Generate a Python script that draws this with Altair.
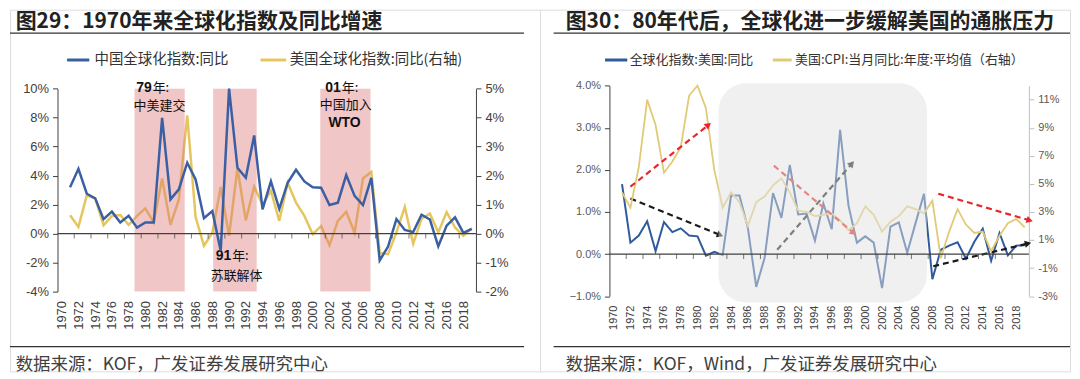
import math
import altair as alt
import pandas as pd

# ---------------- data ----------------
years = list(range(1971, 2020))

# left panel: China globalisation index YoY (left axis, %)
china_glob_yoy = [3.2, 4.47, 2.75, 2.43, 0.99, 1.51, 0.76, 1.22, 0.41, 0.76,
                  0.76, 7.98, 2.36, 3.05, 4.89, 3.74, 1.06, 1.56, -1.19, 10.0,
                  4.54, 3.85, 6.77, 1.67, 3.6, 1.7, 3.5, 4.4, 3.6, 3.2,
                  3.17, 1.97, 2.13, 4.04, 2.6, 1.97, 3.85, -1.85, -0.9, 1.0,
                  0.25, 0.1, 1.3, 0.97, -0.88, 0.55, 1.12, 0.05, 0.33]
# left panel: US globalisation index YoY (right axis, %)
us_glob_yoy = [0.63, 0.23, 1.32, 1.22, 0.29, 0.61, 0.64, 0.30, 0.61, 0.87,
               0.38, 1.90, 0.30, 1.18, 4.08, 0.57, -0.42, 0.03, 1.61, -0.08,
               2.25, 0.46, 1.62, 0.99, 1.47, 0.44, 1.75, 1.07, 0.61, -0.02,
               0.26, -0.40, 0.44, 0.75, 0.03, 1.90, 2.13, -0.67, -0.71, 0.04,
               0.92, -0.35, 0.51, 0.69, 0.04, 0.74, 0.21, -0.08, 0.18]
# right panel: globalisation index US YoY (left axis, %)
glob_us_yoy = [1.66, 0.27, 0.44, 0.78, 0.07, 0.76, 0.52, 0.61, 0.44, 0.42,
               -0.04, 0.05, -0.02, 1.39, 1.39, 0.62, -0.78, -0.09, 1.45, 0.86,
               2.12, 0.94, 0.96, 0.32, 1.2, 0.59, 2.95, 1.15, 0.27, 0.42,
               0.27, -0.81, 0.65, 0.75, 0.03, 0.74, 1.43, -0.6, 0.1, 0.2,
               0.28, -0.11, 0.29, 0.6, -0.16, 0.5, -0.03, 0.2, 0.21]
# right panel: US CPI YoY annual average (right axis, %)
us_cpi = [4.4, 3.3, 6.2, 11.0, 9.2, 5.8, 6.6, 7.6, 11.3, 13.5,
          10.4, 6.0, 3.3, 4.4, 3.7, 2.0, 3.7, 4.1, 4.9, 5.4,
          4.4, 3.1, 3.0, 2.7, 2.8, 2.9, 2.4, 1.7, 2.2, 3.4,
          2.8, 1.6, 2.3, 2.7, 3.4, 3.2, 2.9, 3.8, -0.3, 1.6,
          3.2, 2.1, 1.5, 1.6, 0.2, 1.3, 2.2, 2.5, 1.9]

x_label_years = list(range(1970, 2019, 2))
zero_tick_years = [1971.5 + 2 * k for k in range(24)]

# shaded periods (left panel)
band_start = [1978.7, 1988.1, 2000.9]
band_end = [1984.7, 1993.3, 2006.9]

# annotations (left panel, right-axis units)
ann_num = ["79", "91", "01"]
ann_num_year = [1980.75, 1990.25, 2003.35]
ann_num_val = [5.02, -0.78, 5.02]
ann_suffix = ["年:", "年:", "年:"]
ann_text = ["中美建交", "苏联解体", "中国加入"]
ann_text_year = [1981.68, 1990.9, 2003.94]
ann_text_val = [4.40, -1.45, 4.43]
ann_bold = ["WTO"]
ann_bold_year = [2003.8]
ann_bold_val = [3.82]

# grey period box (right panel)
box_start = [1982.5]
box_end = [2007.35]
box_low = [-3.45]
box_high = [12.18]

# arrows (right panel)
red_x0 = [1972.0, 1989.1, 2008.7]
red_y0 = [4.8, 6.3, 4.3]
red_x1 = [1981.3, 1998.6, 2019.6]
red_y1 = [9.2, 1.5, 2.4]
blk_x0 = [1972.0, 1989.5, 2008.1]
blk_y0 = [1.32, 0.10, -0.29]
blk_x1 = [1982.7, 1998.4, 2019.4]
blk_y1 = [0.45, 2.15, 0.25]

titles = ["图29：1970年来全球化指数及同比增速", "图30：80年代后，全球化进一步缓解美国的通胀压力"]
legend_left = ["中国全球化指数:同比", "美国全球化指数:同比(右轴)"]
legend_right = ["全球化指数:美国:同比", "美国:CPI:当月同比:年度:平均值（右轴）"]
sources = ["数据来源：KOF，广发证券发展研究中心", "数据来源：KOF，Wind，广发证券发展研究中心"]

# ---------------- style ----------------
W, H = 532, 363
CN = "Noto Sans CJK SC"
EN = "Liberation Sans"
AX = "#404040"
BLUE_L = "#3B5FA3"
YEL_L = "#E5C65E"
BAND = "#DE7878"
BLUE_R = "#2F5A9C"
YEL_R = "#E1CA76"
RED = "#E8262A"
BLK = "#1A1A1A"


def text_at(s, x, y, size, color="#262626", weight="normal", font=CN,
            align="left", baseline="middle"):
    return alt.Chart(pd.DataFrame({"t": [s]})).mark_text(
        font=font, fontSize=size, fontWeight=weight, color=color,
        align=align, baseline=baseline
    ).encode(x=alt.value(x), y=alt.value(y), text="t:N")


def hline(x0, x1, y, color, width):
    return alt.Chart(pd.DataFrame({"t": [0]})).mark_rule(
        color=color, strokeWidth=width
    ).encode(x=alt.value(x0), x2=alt.value(x1), y=alt.value(y))


def frame(title, tx, lx0, lx1, legend, leg_colors, leg_pos, leg_size, source, src_size):
    parts = [
        text_at(title, tx, 18.6, 21, color="#222222", weight="bold", baseline="alphabetic"),
        hline(lx0, lx1, 23.6, "#333333", 1.2),
        hline(lx0, lx1, 338.2, "#333333", 1.2),
        text_at(source, tx, 357, src_size, color="#404040"),
    ]
    for lab, col, (s0, s1, t0) in zip(legend, leg_colors, leg_pos):
        parts.append(hline(s0, s1, 50.5, col, 3))
        parts.append(text_at(lab, t0, 50.5, leg_size, color="#333333"))
    return parts


def x_axis(offset, size):
    return alt.Axis(orient="bottom", offset=offset, values=x_label_years, format="d",
                    labelAngle=270, domain=False, ticks=False, grid=False,
                    labelPadding=9, labelFont=EN, labelFontSize=size, labelColor=AX,
                    labelOverlap=False, labelFlush=False, title=None)


def y_axis(orient, offset, values, expr, size, dcolor, lcolor):
    return alt.Axis(orient=orient, offset=offset, values=values, labelExpr=expr,
                    domainColor=dcolor, domainWidth=1, tickColor=dcolor, tickSize=5,
                    labelPadding=4, labelFont=EN, labelFontSize=size, labelColor=lcolor,
                    grid=False, title=None, labelFlush=False)


def arrows(x0s, y0s, x1s, y1s, color, xs, xax, ys, yax, px_x, px_y):
    rows = []
    heads = []
    for i, (a, b, c, d) in enumerate(zip(x0s, y0s, x1s, y1s)):
        rows.append({"id": i, "x": a, "y": b})
        rows.append({"id": i, "x": c, "y": d})
        ang = (math.degrees(math.atan2((c - a) * px_x, (d - b) * px_y)) + 360) % 360
        heads.append({"x": c, "y": d, "ang": ang})
    shaft = alt.Chart(pd.DataFrame(rows)).mark_line(
        color=color, strokeWidth=2.2, strokeDash=[6, 4]
    ).encode(x=alt.X("x:Q", scale=xs, axis=xax), y=alt.Y("y:Q", scale=ys, axis=yax),
             detail="id:N")
    head = alt.Chart(pd.DataFrame(heads)).mark_point(
        shape="triangle-up", filled=True, color=color, size=55, opacity=1
    ).encode(x=alt.X("x:Q", scale=xs, axis=xax), y=alt.Y("y:Q", scale=ys, axis=yax),
             angle=alt.Angle("ang:Q", scale=None))
    return [shaft, head]


# ================= left panel =================
xsL = alt.Scale(domain=[1969.5, 2019.5], range=[47.7, 467.7])
ysLL = alt.Scale(domain=[-4, 10], range=[282.9, 79.3])
ysLR = alt.Scale(domain=[-2, 5], range=[282.9, 79.3])
ysLB = alt.Scale(domain=[-2, 5], range=[282.9, 79.3])
xaxL = x_axis(-80.1, 13)
yaxLL = y_axis("left", -47.7, list(range(-4, 11, 2)), "datum.value + '%'", 13, AX, AX)
yaxLR = y_axis("right", -64.3, list(range(-2, 6)), "datum.value + '%'", 13, AX, AX)

dfL = pd.DataFrame({"year": years, "cn": china_glob_yoy, "us": us_glob_yoy})

yellowL = alt.Chart(dfL).mark_line(color=YEL_L, strokeWidth=2.5).encode(
    x=alt.X("year:Q", scale=xsL, axis=xaxL), y=alt.Y("us:Q", scale=ysLR, axis=yaxLR))

bands_df = pd.DataFrame({"s": band_start, "e": band_end,
                         "lo": [ysLB.domain[0]] * 3, "hi": [ysLB.domain[1]] * 3})
bandsL = alt.Chart(bands_df).mark_rect(color=BAND, opacity=0.42).encode(
    x=alt.X("s:Q", scale=xsL, axis=xaxL), x2="e:Q",
    y=alt.Y("lo:Q", scale=ysLB, axis=None), y2="hi:Q")

ann_num_df = pd.DataFrame({"x": ann_num_year, "y": ann_num_val, "t": ann_num, "s": ann_suffix})
ann_n = alt.Chart(ann_num_df).mark_text(font=EN, fontSize=14, fontWeight="bold", color="#111111",
                                        align="right", baseline="middle").encode(
    x=alt.X("x:Q", scale=xsL, axis=xaxL), y=alt.Y("y:Q", scale=ysLB, axis=None), text="t:N")
ann_s = alt.Chart(ann_num_df).mark_text(font=CN, fontSize=13, color="#111111",
                                        align="left", baseline="middle", dx=1).encode(
    x=alt.X("x:Q", scale=xsL, axis=xaxL), y=alt.Y("y:Q", scale=ysLB, axis=None), text="s:N")
ann_t = alt.Chart(pd.DataFrame({"x": ann_text_year, "y": ann_text_val, "t": ann_text})).mark_text(
    font=CN, fontSize=13, color="#111111", align="center", baseline="middle").encode(
    x=alt.X("x:Q", scale=xsL, axis=xaxL), y=alt.Y("y:Q", scale=ysLB, axis=None), text="t:N")
ann_b = alt.Chart(pd.DataFrame({"x": ann_bold_year, "y": ann_bold_val, "t": ann_bold})).mark_text(
    font=EN, fontSize=14, fontWeight="bold", color="#111111", align="center", baseline="middle").encode(
    x=alt.X("x:Q", scale=xsL, axis=xaxL), y=alt.Y("y:Q", scale=ysLB, axis=None), text="t:N")

blueL = alt.Chart(dfL).mark_line(color=BLUE_L, strokeWidth=2.5).encode(
    x=alt.X("year:Q", scale=xsL, axis=xaxL), y=alt.Y("cn:Q", scale=ysLL, axis=yaxLL))
zero_df_L = pd.DataFrame({"a": [xsL.domain[0]], "b": [xsL.domain[1]], "z": [0]})
zeroL = alt.Chart(zero_df_L).mark_rule(color=AX, strokeWidth=1.3).encode(
    x=alt.X("a:Q", scale=xsL, axis=xaxL), x2="b:Q", y=alt.Y("z:Q", scale=ysLL, axis=yaxLL))
ticks_df = pd.DataFrame({"t": zero_tick_years, "z": [0] * len(zero_tick_years)})
ticksL = alt.Chart(ticks_df).mark_tick(orient="vertical", size=5, thickness=1, color=AX,
                                       yOffset=2.5).encode(
    x=alt.X("t:Q", scale=xsL, axis=xaxL), y=alt.Y("z:Q", scale=ysLL, axis=yaxLL))

frameL = frame(titles[0], 5.7, 0, 516, legend_left, [BLUE_L, YEL_L],
               [(57.3, 79.6, 84.8), (251.5, 277.2, 280.7)], 14.5, sources[0], 17.5)

left_panel = alt.layer(
    alt.layer(yellowL),
    alt.layer(bandsL, ann_n, ann_s, ann_t, ann_b),
    alt.layer(blueL, zeroL, ticksL, *frameL),
).resolve_scale(y="independent").properties(width=W, height=H)

# ================= right panel =================
xsR = alt.Scale(domain=[1969.5, 2019.5], range=[69.7, 490.7])
ysRL = alt.Scale(domain=[-1, 4], range=[287.5, 76.3])
ysRR = alt.Scale(domain=[-3, 12], range=[287.5, 76.3], clamp=True)
ysRB = alt.Scale(domain=[-3, 12], range=[287.5, 76.3])
xaxR = x_axis(-75.5, 11)
yaxRL = y_axis("left", -69.7, list(range(-1, 5)), "format(datum.value, '.1f') + '%'", 11, AX, "#595959")
yaxRR = y_axis("right", -41.3, list(range(-3, 12, 2)), "datum.value + '%'", 11, "#BFBFBF", "#595959")

px_year = (490.7 - 69.7) / 50
px_left = (287.5 - 76.3) / 5
px_right = (287.5 - 76.3) / 15

dfR = pd.DataFrame({"year": years, "glob": glob_us_yoy, "cpi": us_cpi})

blueR = alt.Chart(dfR).mark_line(color=BLUE_R, strokeWidth=2).encode(
    x=alt.X("year:Q", scale=xsR, axis=xaxR), y=alt.Y("glob:Q", scale=ysRL, axis=yaxRL))
blk_layers = arrows(blk_x0, blk_y0, blk_x1, blk_y1, BLK, xsR, xaxR, ysRL, yaxRL, px_year, px_left)

yellowR = alt.Chart(dfR).mark_line(color=YEL_R, strokeWidth=1.8).encode(
    x=alt.X("year:Q", scale=xsR, axis=xaxR), y=alt.Y("cpi:Q", scale=ysRR, axis=yaxRR))
red_layers = arrows(red_x0, red_y0, red_x1, red_y1, RED, xsR, xaxR, ysRR, yaxRR, px_year, px_right)

box_df = pd.DataFrame({"s": box_start, "e": box_end, "lo": box_low, "hi": box_high})
boxR = alt.Chart(box_df).mark_rect(color="#E2E2E2", opacity=0.5, cornerRadius=28).encode(
    x=alt.X("s:Q", scale=xsR, axis=xaxR), x2="e:Q",
    y=alt.Y("lo:Q", scale=ysRB, axis=None), y2="hi:Q")
zero_df_R = pd.DataFrame({"a": [xsR.domain[0]], "b": [xsR.domain[1]], "z": [0]})
zeroR = alt.Chart(zero_df_R).mark_rule(color=AX, strokeWidth=1.3).encode(
    x=alt.X("a:Q", scale=xsR, axis=xaxR), x2="b:Q", y=alt.Y("z:Q", scale=ysRB, axis=None))
ticksR = alt.Chart(ticks_df).mark_tick(orient="vertical", size=5, thickness=1, color=AX,
                                       yOffset=2.5).encode(
    x=alt.X("t:Q", scale=xsR, axis=xaxR), y=alt.Y("z:Q", scale=ysRB, axis=None))

frameR = frame(titles[1], 25.8, 13.7, 532, legend_right, [BLUE_R, YEL_R],
               [(65.3, 87.6, 90.0), (233.7, 252.6, 256.0)], 13, sources[1], 17.5)

right_panel = alt.layer(
    alt.layer(blueR, *blk_layers),
    alt.layer(yellowR, *red_layers),
    alt.layer(boxR, zeroR, ticksR, *frameR),
).resolve_scale(y="independent").properties(width=W, height=H)

chart = alt.hconcat(left_panel, right_panel, spacing=0, bounds="flush", padding=0).configure_view(
    strokeWidth=0, strokeOpacity=0
).configure(background="white")

chart.save("out.html", embed_options={"renderer": "svg", "actions": False})
